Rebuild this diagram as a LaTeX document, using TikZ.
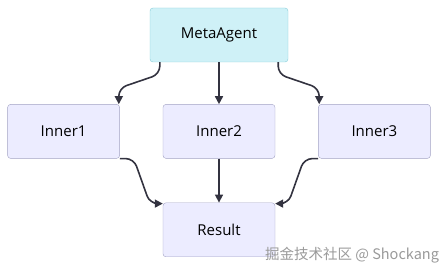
\documentclass[tikz,border=0pt]{standalone}
\usepackage{fontspec}
\setmainfont{Open Sans}
\newfontfamily\cjk{Noto Sans CJK SC}
\usepackage{xcolor}
\definecolor{agentfill}{HTML}{CFF1F7}
\definecolor{agentdraw}{HTML}{86CCD8}
\definecolor{boxfill}{HTML}{ECECFF}
\definecolor{boxdraw}{HTML}{A3A3C4}
\definecolor{edgegray}{HTML}{333340}
\definecolor{markgray}{HTML}{9A9A9A}
\usepackage{tikz}
\usetikzlibrary{arrows.meta,positioning}

\begin{document}
\begin{tikzpicture}[x=1pt,y=1pt,font=\fontsize{15}{17}\selectfont,
  blk/.style={draw=boxdraw,fill=boxfill,rounded corners=3pt,
    minimum width=112pt,minimum height=54pt,inner sep=2pt},
  arr/.style={-{Triangle[length=8pt,width=8pt]},edgegray,line width=1.6pt,rounded corners=8pt}]
\useasboundingbox (0,0) rectangle (447,-272);
% top agent
\node[blk,draw=agentdraw,fill=agentfill,minimum width=138pt] (meta) at (219,-35) {MetaAgent};
% inner agents
\node[blk,below=42pt of meta] (inner2) {Inner2};
\node[blk,left=43pt of inner2] (inner1) {Inner1};
\node[blk,right=43pt of inner2] (inner3) {Inner3};
% result
\node[blk,below=44pt of inner2] (result) {Result};
% fan out
\draw[arr] ([xshift=10pt]meta.south west) -- ++(0,-12) -- ([xshift=-1pt,yshift=16pt]inner1.north east)
  -- ([xshift=-1pt]inner1.north east);
\draw[arr] (meta) -- (inner2);
\draw[arr] ([xshift=-10pt]meta.south east) -- ++(0,-12) -- ([xshift=1pt,yshift=16pt]inner3.north west)
  -- ([xshift=1pt]inner3.north west);
% fan in
\draw[arr] (inner1.south east) -- ++(14,0) -- ([xshift=-13pt,yshift=-1pt]result.north west)
  -- ([yshift=-1pt]result.north west);
\draw[arr] (inner2) -- (result);
\draw[arr] (inner3.south west) -- ++(-14,0) -- ([xshift=13pt,yshift=-1pt]result.north east)
  -- ([yshift=-1pt]result.north east);
% watermark
\node[font=\cjk\fontsize{14.5}{16}\selectfont,text=markgray,inner sep=0pt] (mark) at (352,-255)
  {掘金技术社区 @ Shockang};
\end{tikzpicture}
\end{document}
